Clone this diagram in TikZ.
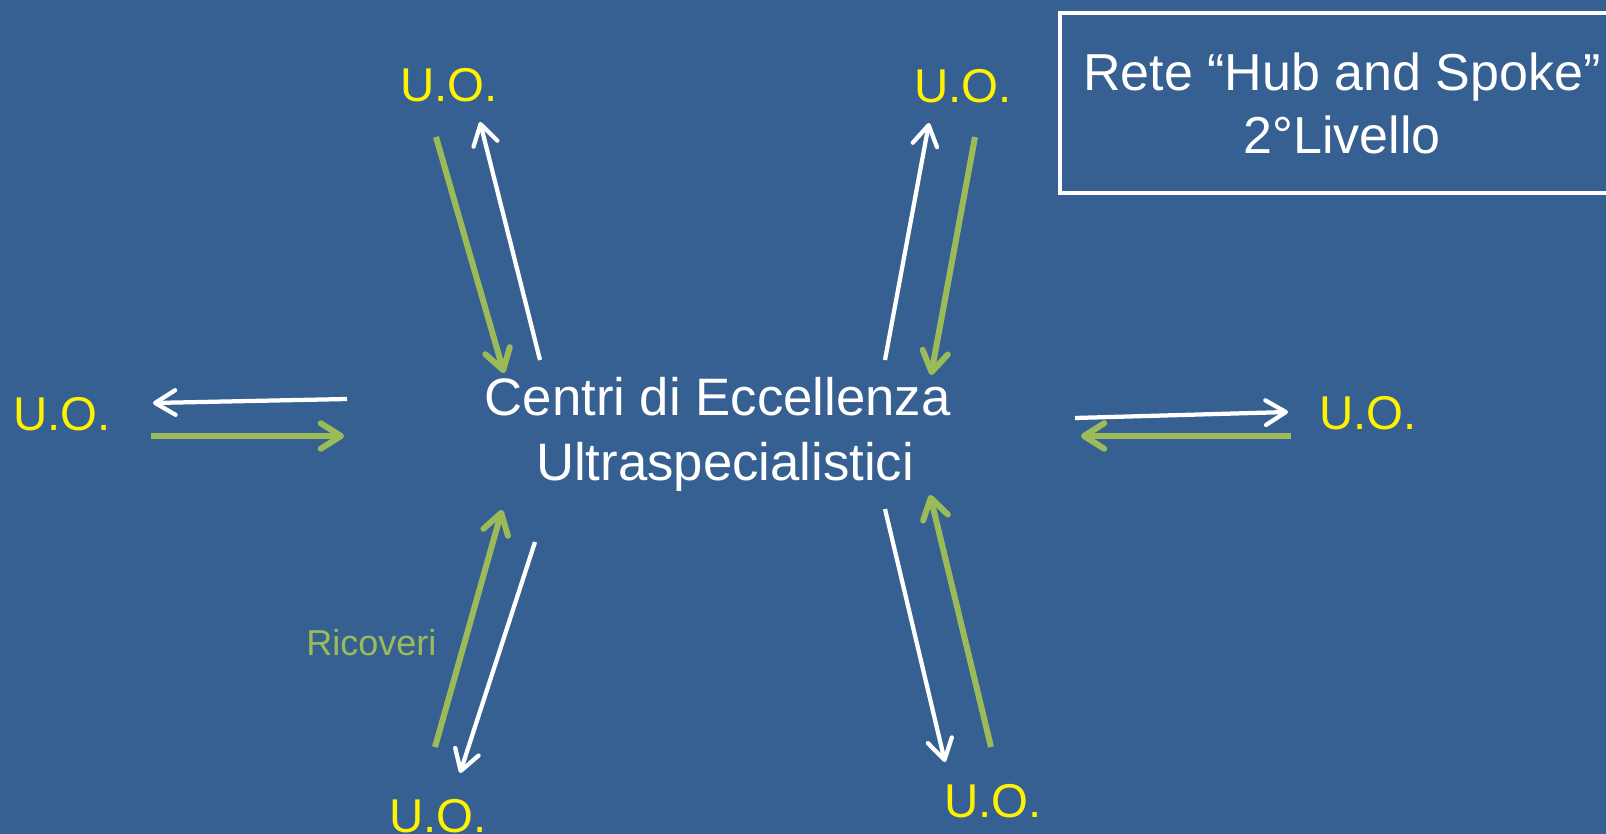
\documentclass[tikz,border=0pt]{standalone}
\usepackage{fontspec}
\setmainfont{Liberation Sans}
\usetikzlibrary{arrows.meta}
\definecolor{slideblue}{RGB}{55,96,146}
\definecolor{ricgreen}{RGB}{155,187,89}

\begin{document}
\begin{tikzpicture}[x=0.02cm, y=-0.02cm,
			uo/.style={text=yellow, anchor=base, inner sep=0, font=\fontsize{27}{32}\selectfont},
			hub/.style={text=white, align=center, inner sep=0, font=\fontsize{30}{37}\selectfont},
			titlebox/.style={draw=white, line width = 0.08cm, text=white, align=center, minimum width=11.28cm, minimum height=3.6cm, font=\fontsize{29.6}{35.9}\selectfont},
			outarrow/.style={-{Straight Barb[length=11.5pt, width=14pt, round]}, line width = 0.085cm, color = white},
			inarrow/.style={-{Straight Barb[length=11.5pt, width=14.5pt, round]}, line width = 0.12cm, color = ricgreen}
		]

		\fill[slideblue] (0,0) rectangle (1606,834);
		\clip (0,0) rectangle (1606,834);

		\node[titlebox] (rete) at (1342,103) {Rete “Hub and Spoke”\\2°Livello};

		\node[hub] (centri) at (725,434) {\mbox{Centri di Eccellenza\ }\\Ultraspecialistici};

		\node[uo] (uoTL) at (449,102) {U.O.};
		\node[uo] (uoTR) at (963,103) {U.O.};
		\node[uo] (uoL) at (62,431) {U.O.};
		\node[uo] (uoR) at (1368,430) {U.O.};
		\node[uo] (uoBL) at (438,832) {U.O.};
		\node[uo] (uoBR) at (993,817) {U.O.};

		\node[text=ricgreen, anchor=base west, inner sep=0, font=\fontsize{20.5}{24}\selectfont] (ricoveri) at (306,655) {Ricoveri};

		\coordinate (inTLa) at (436,137);
		\coordinate (inTLb) at (504,373);
		\coordinate (outTLa) at (540,360);
		\coordinate (outTLb) at (480,122);

		\coordinate (outTRa) at (885,360);
		\coordinate (outTRb) at (929,123);
		\coordinate (inTRa) at (975,137);
		\coordinate (inTRb) at (931,375);

		\coordinate (outLa) at (347,399);
		\coordinate (outLb) at (153,403);
		\coordinate (inLa) at (151,436);
		\coordinate (inLb) at (344,436);

		\coordinate (outRa) at (1075,418);
		\coordinate (outRb) at (1288,412);
		\coordinate (inRa) at (1291,436);
		\coordinate (inRb) at (1081,436);

		\coordinate (inBLa) at (435,747);
		\coordinate (inBLb) at (502,510);
		\coordinate (outBLa) at (535,542);
		\coordinate (outBLb) at (460,773);

		\coordinate (outBRa) at (885,509);
		\coordinate (outBRb) at (945,762);
		\coordinate (inBRa) at (991,747);
		\coordinate (inBRb) at (930,495);

		\draw[inarrow] (inTLa) -- (inTLb);
		\draw[outarrow] (outTLa) -- (outTLb);
		\draw[outarrow] (outTRa) -- (outTRb);
		\draw[inarrow] (inTRa) -- (inTRb);
		\draw[outarrow] (outLa) -- (outLb);
		\draw[inarrow] (inLa) -- (inLb);
		\draw[outarrow] (outRa) -- (outRb);
		\draw[inarrow] (inRa) -- (inRb);
		\draw[inarrow] (inBLa) -- (inBLb);
		\draw[outarrow] (outBLa) -- (outBLb);
		\draw[outarrow] (outBRa) -- (outBRb);
		\draw[inarrow] (inBRa) -- (inBRb);

	\end{tikzpicture}
\end{document}
